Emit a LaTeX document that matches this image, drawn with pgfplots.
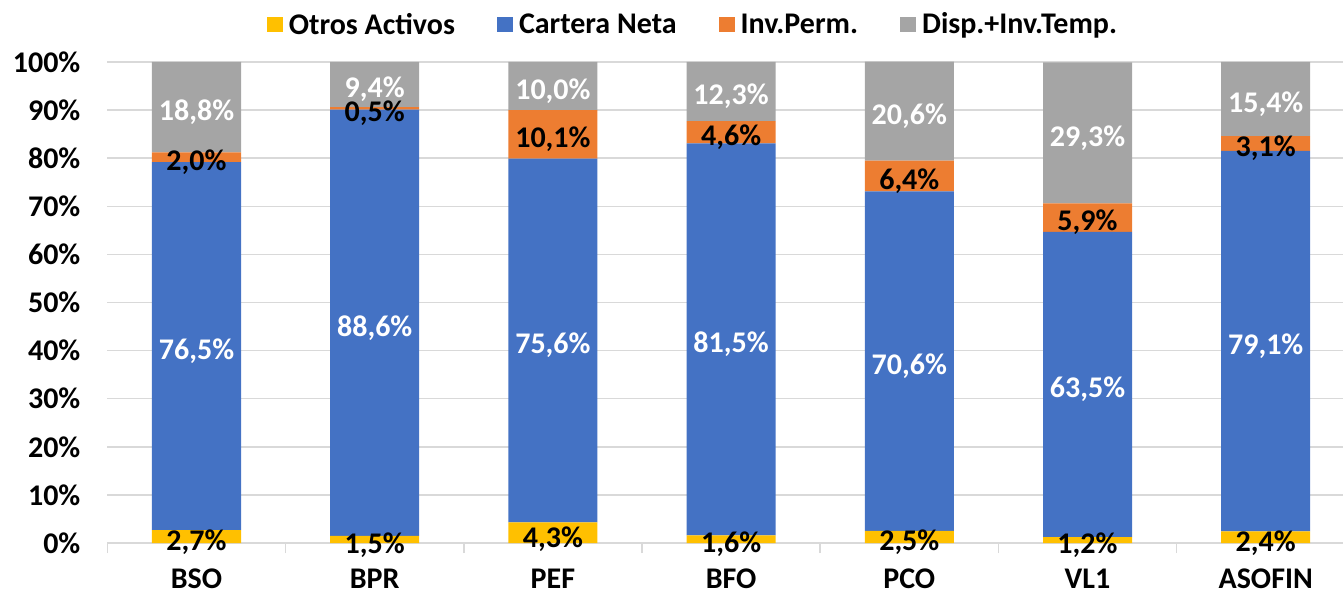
\documentclass[border=0pt]{standalone}
\usepackage{fontspec}
\setmainfont{Carlito}
\usepackage{pgfplots}
\usepackage{pgfplotstable}
\pgfplotsset{compat=1.18}
\definecolor{cYel}{HTML}{FFC000}
\definecolor{cBlue}{HTML}{4472C4}
\definecolor{cOra}{HTML}{ED7D31}
\definecolor{cGray}{HTML}{A5A5A5}
\definecolor{cGrid}{HTML}{D9D9D9}
\pgfplotstableread{
x ot ca inv disp
0 2.7 76.5 2.0 18.8
1 1.5 88.6 0.5 9.4
2 4.3 75.6 10.1 10.0
3 1.6 81.5 4.6 12.3
4 2.5 70.6 6.4 20.6
5 1.2 63.5 5.9 29.3
6 2.4 79.1 3.1 15.4
}\datatable
\newcommand{\lf}{\fontsize{15}{17}\selectfont\bfseries}
\pgfplotsset{
  geom/.style={at={(53.7pt,25.5pt)}, anchor=south west,
    scale only axis, width=623.7pt, height=240.5pt,
    xmin=-0.5, xmax=6.5, ymin=0, ymax=100},
}
\begin{document}
\begin{tikzpicture}
\useasboundingbox (0,0) rectangle (671.5pt,297pt);
\begin{axis}[
  geom,
  ybar stacked, bar width=44.5pt,
  /pgf/number format/assume math mode=true,
  axis x line*=bottom, axis y line*=left,
  x axis line style={draw=cGrid, line width=0.75pt},
  y axis line style={draw=none},
  xtick={-0.5,0.5,...,6.5}, xticklabels={},
  extra x ticks={0,1,2,3,4,5,6},
  extra x tick labels={BSO,BPR,PEF,BFO,PCO,VL1,ASOFIN},
  extra x tick style={major tick length=0pt, grid=none,
     xticklabel style={anchor=base, yshift=-22.5pt}},
  tick align=outside, major tick length=5pt,
  xtick style={draw=cGrid, line width=0.75pt},
  ytick={0,10,...,100},
  yticklabel={\pgfmathprintnumber{\tick}\%},
  ytick style={draw=none},
  ymajorgrids, grid style={draw=cGrid, line width=0.75pt},
  tick label style={font=\lf},
  yticklabel style={anchor=east, xshift=-5pt},
  legend style={at={(0.471,1.077)}, anchor=center, draw=none, fill=none,
     legend columns=4, font=\lf,
     nodes={inner xsep=3pt},
     /tikz/every even column/.append style={column sep=18pt}},
  legend image code/.code={\path[#1,draw=none] (0pt,-3.75pt) rectangle (8pt,3.75pt);},
]
\addplot[fill=cYel, draw=none] table[x=x, y=ot]{\datatable};
\addplot[fill=cBlue, draw=none] table[x=x, y=ca]{\datatable};
\addplot[fill=cOra, draw=none] table[x=x, y=inv]{\datatable};
\addplot[fill=cGray, draw=none] table[x=x, y=disp]{\datatable};
\legend{Otros Activos, Cartera Neta, Inv.Perm., Disp.+Inv.Temp.}
\end{axis}
\begin{axis}[
  geom, hide axis, clip=false,
  /pgf/number format/assume math mode=true,
  point meta=explicit,
  nodes near coords={\pgfmathprintnumber[fixed,fixed zerofill,precision=1,use comma]{\pgfplotspointmeta}\%},
  every node near coord/.append style={font=\lf, anchor=center, yshift=-2.5pt},
]
\addplot[draw=none, mark=none, nodes near coords style={text=black}]
  table[x=x, y expr={0.45*\thisrow{ot}}, meta=ot]{\datatable};
\addplot[draw=none, mark=none, nodes near coords style={text=white}]
  table[x=x, y expr={\thisrow{ot}+\thisrow{ca}/2}, meta=ca]{\datatable};
\addplot[draw=none, mark=none, nodes near coords style={text=black}]
  table[x=x, y expr={\thisrow{ot}+\thisrow{ca}+\thisrow{inv}/2}, meta=inv]{\datatable};
\addplot[draw=none, mark=none, nodes near coords style={text=white}]
  table[x=x, y expr={\thisrow{ot}+\thisrow{ca}+\thisrow{inv}+\thisrow{disp}/2}, meta=disp]{\datatable};
\end{axis}
\end{tikzpicture}
\end{document}
